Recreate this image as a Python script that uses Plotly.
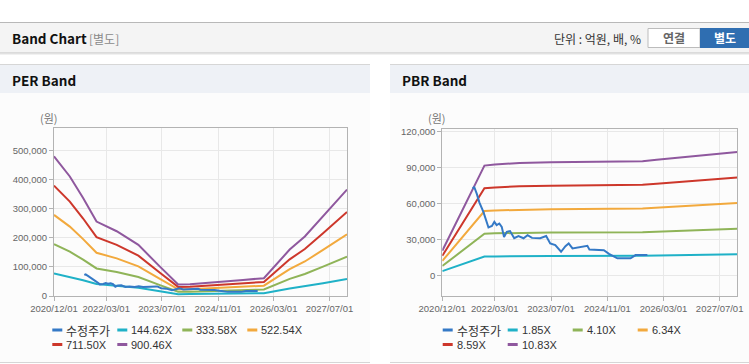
import plotly.graph_objects as go

W, H = 749, 364

# ---------------- data ----------------
TICK_DATES = ["2020-12-01", "2022-03-01", "2023-07-01", "2024-11-01", "2026-03-01", "2027-07-01"]
TICK_LABELS = ["2020/12/01", "2022/03/01", "2023/07/01", "2024/11/01", "2026/03/01", "2027/07/01"]
X_RANGE = ["2020-12-01", "2027-12-01"]

PRICE_NAME = "수정주가"
PRICE_DATES = ["2021-08-22", "2021-09-03", "2021-09-26", "2021-10-18", "2021-11-22", "2021-12-22",
               "2022-01-05", "2022-02-04", "2022-02-25", "2022-03-17", "2022-04-09", "2022-04-30",
               "2022-05-20", "2022-06-13", "2022-07-11", "2022-08-16", "2022-09-22", "2022-11-05",
               "2022-12-10", "2023-01-17", "2023-03-29", "2023-05-20", "2023-06-24", "2023-08-07",
               "2023-09-26", "2023-11-03", "2023-12-01", "2024-01-03", "2024-04-24", "2024-05-11",
               "2024-05-29", "2024-10-01", "2024-11-14", "2025-01-26", "2025-05-20", "2025-07-03",
               "2025-10-13"]
PRICE = [72500, 74000, 68000, 61000, 53000, 44700, 40000, 41300, 44700, 42000, 43300, 40500,
         32000, 36300, 37000, 31000, 32800, 31000, 33600, 31300, 31000, 32800, 26700, 25300,
         19700, 24400, 26700, 22500, 24000, 24700, 21500, 21000, 18000, 14200, 14200, 16900,
         16900]

PER_DATES = ["2020-12-01", "2021-04-18", "2021-08-12", "2021-12-07", "2022-06-01", "2022-12-07",
             "2023-06-13", "2023-11-19", "2024-03-01", "2024-12-16", "2025-06-07", "2025-12-06",
             "2026-07-19", "2026-11-28", "2027-05-06", "2027-12-01"]
PER_NAMES = ["144.62X", "333.58X", "522.54X", "711.50X", "900.46X"]
PER_144 = [77100, 65900, 54100, 41100, 35700, 28200, 16200, 6400, 6500, 7800, 8800, 9800, 25600, 32800, 43800, 58700]
PER_333 = [177800, 152100, 124800, 94700, 82400, 65000, 37400, 14700, 15000, 18000, 20300, 22700, 59000, 75700, 101100, 135400]
PER_522 = [278500, 238300, 195400, 148400, 129100, 101900, 58500, 23000, 23500, 28200, 31900, 35500, 92500, 118600, 158300, 212200]
PER_711 = [379200, 324400, 266100, 202100, 175700, 138700, 79700, 31300, 32000, 38400, 43400, 48400, 125900, 161500, 215600, 288900]
PER_900 = [479900, 410600, 336800, 255700, 222400, 175600, 100900, 39600, 40500, 48600, 54900, 61200, 159400, 204400, 272800, 365600]
PER_YTICKS = [0, 100000, 200000, 300000, 400000, 500000]

PBR_DATES = ["2020-12-01", "2021-12-01", "2022-03-01", "2022-10-01", "2023-07-01", "2025-09-01",
             "2026-01-01", "2027-12-01"]
PBR_NAMES = ["1.85X", "4.10X", "6.34X", "8.59X", "10.83X"]
PBR_185 = [3500, 15700, 15800, 16000, 16100, 16300, 16500, 17600]
PBR_410 = [7800, 34700, 35100, 35500, 35800, 36100, 36500, 39000]
PBR_634 = [12000, 53700, 54200, 54900, 55300, 55800, 56500, 60400]
PBR_859 = [16300, 72800, 73400, 74400, 74900, 75600, 76500, 81800]
PBR_1083 = [20600, 91700, 92600, 93800, 94400, 95300, 96500, 103100]
PBR_YTICKS = [0, 30000, 60000, 90000, 120000]

PRICE_COLOR = "#3479c6"
BAND_COLORS = ["#1fb1c7", "#8fb458", "#f2a93d", "#cd372b", "#8f589e"]

FONT = "Liberation Sans, Arial, Noto Sans CJK KR"
KFONT = "Noto Sans CJK KR, Liberation Sans"


def px(x):
    return x / W


def py(y):
    return 1 - y / H


fig = go.Figure()

per_bands = [PER_144, PER_333, PER_522, PER_711, PER_900]
pbr_bands = [PBR_185, PBR_410, PBR_634, PBR_859, PBR_1083]

for name, vals, col in zip(PER_NAMES, per_bands, BAND_COLORS):
    fig.add_trace(go.Scatter(x=PER_DATES, y=vals, name=name, mode="lines",
                             line=dict(color=col, width=2), xaxis="x", yaxis="y", showlegend=False))
fig.add_trace(go.Scatter(x=PRICE_DATES, y=PRICE, name=PRICE_NAME, mode="lines",
                         line=dict(color=PRICE_COLOR, width=2), xaxis="x", yaxis="y", showlegend=False))

for name, vals, col in zip(PBR_NAMES, pbr_bands, BAND_COLORS):
    fig.add_trace(go.Scatter(x=PBR_DATES, y=vals, name=name, mode="lines",
                             line=dict(color=col, width=2), xaxis="x2", yaxis="y2", showlegend=False))
fig.add_trace(go.Scatter(x=PRICE_DATES, y=PRICE, name=PRICE_NAME, mode="lines",
                         line=dict(color=PRICE_COLOR, width=2), xaxis="x2", yaxis="y2", showlegend=False))

# plot-area rectangles (pixels)
PER_BOX = (54, 128, 347, 296)
PBR_BOX = (442.3, 129, 737.3, 295.7)


def xaxis(box, anchor):
    return dict(type="date", domain=[px(box[0]), px(box[2])], range=X_RANGE, anchor=anchor,
                tickvals=TICK_DATES, ticktext=TICK_LABELS, showgrid=True, gridcolor="#e8e8e8",
                gridwidth=1, showline=True, mirror=True, linecolor="#b3b3b3", linewidth=1,
                ticks="outside", ticklen=4, tickcolor="#b3b3b3", automargin=False,
                tickfont=dict(family=FONT, size=9.5, color="#666"), zeroline=False, fixedrange=True)


def yaxis(box, anchor, rng, ticks):
    return dict(domain=[py(box[3]), py(box[1])], range=rng, anchor=anchor, tickvals=ticks,
                tickformat=",d", showgrid=True, gridcolor="#e8e8e8", gridwidth=1, showline=True,
                mirror=True, linecolor="#b3b3b3", linewidth=1, ticks="outside", ticklen=4,
                tickcolor="#b3b3b3", tickfont=dict(family=FONT, size=9.5, color="#666"),
                automargin=False, zeroline=False, fixedrange=True)


shapes = []


def rect(x0, y0, x1, y1, fill, line=None):
    shapes.append(dict(type="rect", xref="paper", yref="paper", x0=px(x0), x1=px(x1),
                       y0=py(y1), y1=py(y0), fillcolor=fill, layer="below",
                       line=dict(width=1 if line else 0, color=line or fill)))


def hline(x0, x1, y, color, width=1):
    shapes.append(dict(type="line", xref="paper", yref="paper", x0=px(x0), x1=px(x1),
                       y0=py(y), y1=py(y), layer="below", line=dict(color=color, width=width)))


# header bar
rect(0, 22.5, 749, 52.5, "#f4f4f4")
hline(0, 749, 22.5, "#b8b8b8")
hline(0, 749, 53, "#bdbdbd")
hline(0, 749, 54, "#e4e4e4")
# buttons
rect(648, 28.5, 700, 47.5, "#ffffff", "#bcbcbc")
rect(700, 28, 749, 48, "#2f6eb1")

# panels
for (x0, x1) in [(0, 370), (390, 749)]:
    rect(x0, 64.5, x1, 362, "#fcfcfc")
    rect(x0, 64.5, x1, 93, "#eef1f6")
    hline(x0, x1, 64.5, "#d6d6d6")
    hline(x0, x1, 362.5, "#d6d6d6")

annotations = []


def text(x, y, s, size=12, color="#333", xanchor="left", family=FONT):
    annotations.append(dict(x=px(x), y=py(y), xref="paper", yref="paper", text=s, showarrow=False,
                            xanchor=xanchor, yanchor="middle", font=dict(size=size, color=color, family=family)))


text(10, 38.5, "<b>Band Chart</b>", size=13.5, color="#111", family=KFONT)
text(87, 38.5, "[별도]", size=12, color="#8a8a8a", family=KFONT)
text(643, 38.5, "단위 : 억원, 배, %", size=12, color="#333", xanchor="right", family=KFONT)
text(674, 38, "<b>연결</b>", size=12, color="#666", xanchor="center", family=KFONT)
text(724.5, 38, "<b>별도</b>", size=12, color="#ffffff", xanchor="center", family=KFONT)
text(10, 80, "<b>PER Band</b>", size=13.5, color="#111", family=KFONT)
text(400, 80, "<b>PBR Band</b>", size=13.5, color="#111", family=KFONT)
text(49, 118, "(원)", size=11, color="#777", xanchor="center", family=KFONT)
text(437, 118, "(원)", size=11, color="#777", xanchor="center", family=KFONT)

# legends (drawn as text + short colored dashes)
for x0, names in [(52.3, [PRICE_NAME] + PER_NAMES), (442.7, [PRICE_NAME] + PBR_NAMES)]:
    colors = [PRICE_COLOR] + BAND_COLORS
    for i, (nm, col) in enumerate(zip(names, colors)):
        row, colpos = divmod(i, 4)
        xx = x0 + colpos * 65
        yy = 330 + row * 14.5
        shapes.append(dict(type="line", xref="paper", yref="paper", x0=px(xx), x1=px(xx + 10),
                           y0=py(yy), y1=py(yy), line=dict(color=col, width=3)))
        fam = KFONT if nm == PRICE_NAME else FONT
        text(xx + 12, yy, nm, size=11 if nm != PRICE_NAME else 12, color="#333", family=fam)

fig.update_layout(
    template="none",
    width=W, height=H, margin=dict(l=0, r=0, t=0, b=0, pad=0, autoexpand=False),
    paper_bgcolor="#ffffff", plot_bgcolor="#ffffff",
    xaxis=xaxis(PER_BOX, "y"), yaxis=yaxis(PER_BOX, "x", [0, 577000], PER_YTICKS),
    xaxis2=xaxis(PBR_BOX, "y2"), yaxis2=yaxis(PBR_BOX, "x2", [-17000, 122250], PBR_YTICKS),
    shapes=shapes, annotations=annotations, showlegend=False,
    font=dict(family=FONT),
)

fig.write_html("out.html", config={"displayModeBar": False},
               post_script="document.body.style.margin='0';document.body.style.overflow='hidden';")
